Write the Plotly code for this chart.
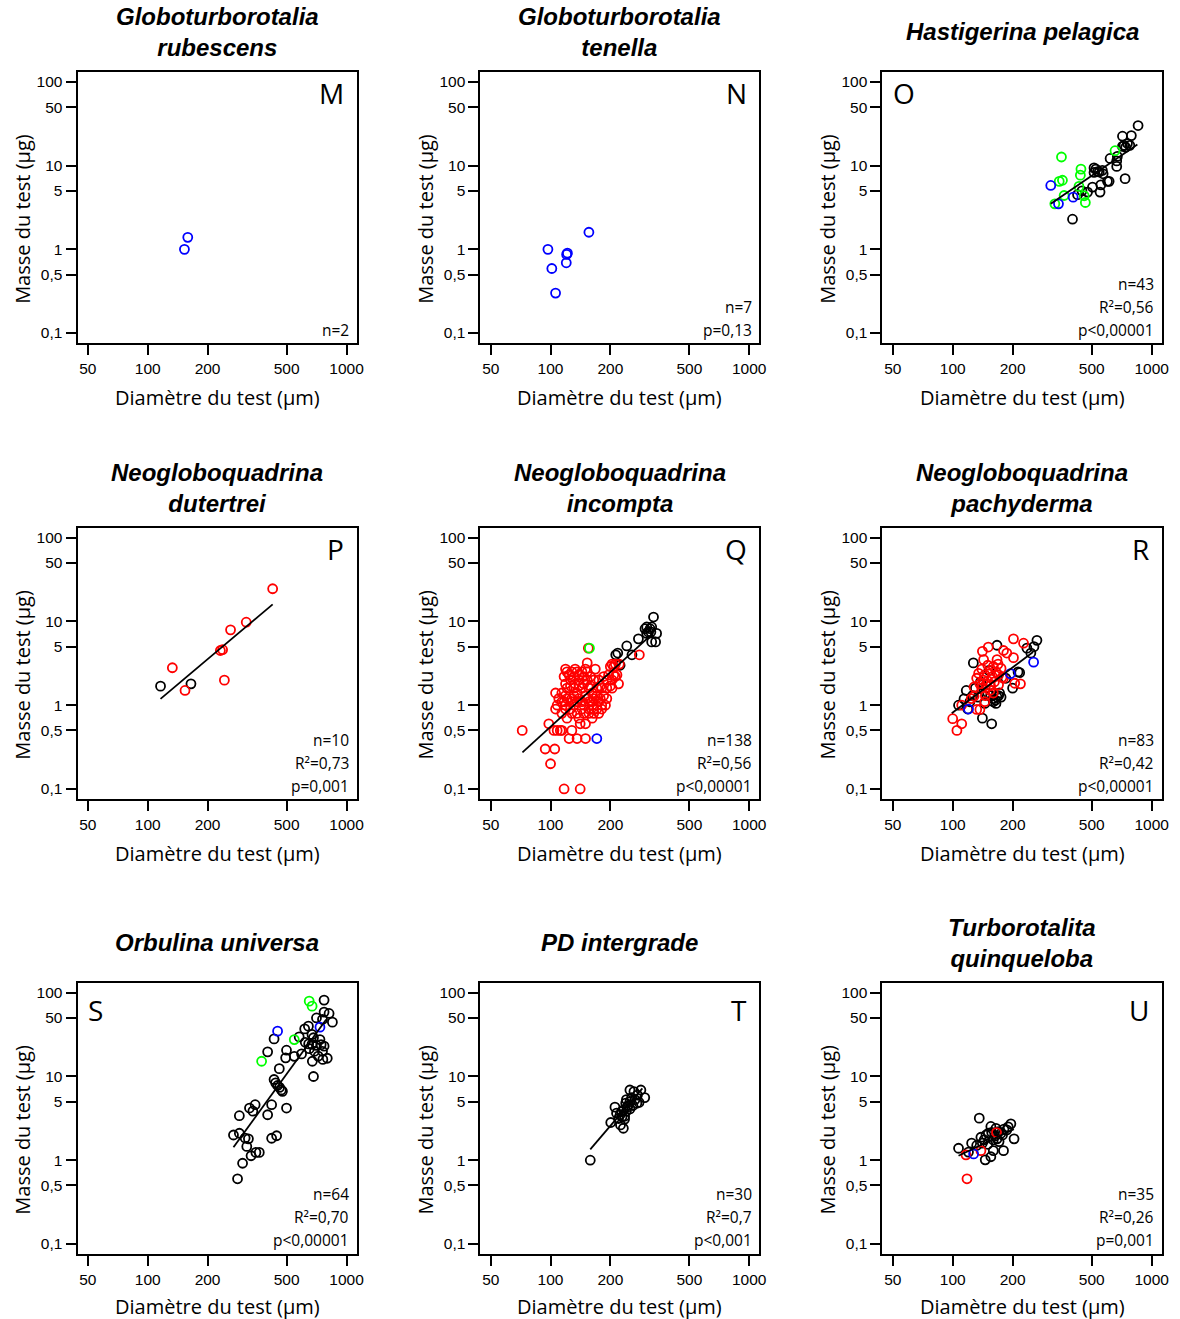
import math
import plotly.graph_objects as go

W, H = 1180, 1319

# ---------------- data ----------------
X_TICKS = [50, 100, 200, 500, 1000]
X_TICKTEXT = ["50", "100", "200", "500", "1000"]
Y_TICKS = [0.1, 0.5, 1, 5, 10, 50, 100]
Y_TICKTEXT = ["0,1", "0,5", "1", "5", "10", "50", "100"]

X_TITLE = "Diamètre du test (µm)"
Y_TITLE = "Masse du test (µg)"

# M  Globoturborotalia rubescens
M_blue_x = [153, 159]
M_blue_y = [1.0, 1.39]

# N  Globoturborotalia tenella
N_blue_x = [97, 101.5, 106, 120, 121.6, 120.5, 156]
N_blue_y = [1.0, 0.59, 0.30, 0.69, 0.9, 0.87, 1.6]

# O  Hastigerina pelagica
O_black_x = [854, 713, 790, 726, 755, 776, 740, 618, 667, 667, 735, 524, 535, 513, 545,
             570, 611, 599, 555, 504, 550, 476, 446, 400, 424, 513, 713, 565, 672]
O_black_y = [30.2, 22.5, 22.9, 17.5, 18.4, 17.5, 16.6, 12.2, 11.4, 9.8, 7.0, 9.1, 8.5, 8.3, 8.4,
             8.0, 6.5, 6.5, 5.9, 5.55, 4.83, 4.83, 5.0, 2.29, 4.5, 9.4, 17.0, 8.8, 12.9]
O_green_x = [352, 343, 356, 441, 438, 363, 326, 431, 458, 464, 654]
O_green_y = [12.7, 6.5, 6.7, 9.1, 7.7, 4.4, 3.5, 5.65, 4.37, 3.63, 15.1]
O_blue_x = [311, 340, 403]
O_blue_y = [5.8, 3.5, 4.2]
O_fit_x = [311, 847]
O_fit_y = [3.5, 17.9]

# P  Neogloboquadrina dutertrei
P_red_x = [425, 313, 261, 232, 238, 243, 133, 154]
P_red_y = [24.6, 9.8, 7.95, 4.5, 4.6, 1.99, 2.8, 1.5]
P_black_x = [116, 165]
P_black_y = [1.69, 1.8]
P_fit_x = [116, 425]
P_fit_y = [1.19, 16.0]

# Q  Neogloboquadrina incompta
Q_black_x = [330, 299, 305, 317, 323, 311, 305, 320, 342, 338, 323, 277, 242, 218, 213, 257, 224]
Q_black_y = [11.3, 8.2, 8.6, 8.2, 8.6, 7.5, 7.2, 7.5, 7.2, 5.7, 5.7, 6.2, 5.1, 4.2, 4.0, 4.0, 3.0]
Q_red_x = [280, 153, 155,
           121, 128, 136, 144, 153,
           204, 212, 222,
           200, 208,
           196, 208, 216, 124, 139,
           126, 139, 153, 165, 175, 192, 204,
           220, 119, 147, 133,
           121, 131, 144, 156, 171, 181, 192, 204,
           106, 114, 162, 136,
           110, 121, 128, 139, 153, 165, 178, 192,
           117, 144, 162, 128,
           108, 119, 131, 147, 162, 181, 189,
           106, 126, 156, 165, 181,
           114, 136, 147, 156, 165,
           121, 139, 162,
           98, 141, 150,
           72, 104, 108, 112, 114, 128,
           124, 136, 150,
           94, 105,
           100,
           117, 141,
           119, 133, 150, 168,
           117, 131, 147, 159, 185, 212,
           126, 139, 159, 178, 200,
           119, 131, 150, 171, 185,
           114, 136, 156, 175,
           119, 144, 171,
           128, 175]
Q_red_y = [4.0, 3.2, 4.8,
           2.5, 2.5, 2.5, 2.5, 2.5,
           3.1, 3.1, 3.1,
           2.9, 2.9,
           2.3, 2.3, 2.3, 2.3, 2.3,
           2.0, 2.0, 2.0, 2.0, 2.0, 2.0, 2.0,
           1.8, 1.8, 1.8, 1.8,
           1.6, 1.6, 1.6, 1.6, 1.6, 1.6, 1.6, 1.6,
           1.4, 1.4, 1.4, 1.4,
           1.2, 1.2, 1.2, 1.2, 1.2, 1.2, 1.2, 1.2,
           1.1, 1.1, 1.1, 1.1,
           1.0, 1.0, 1.0, 1.0, 1.0, 1.0, 1.0,
           0.9, 0.9, 0.9, 0.9, 0.9,
           0.8, 0.8, 0.8, 0.8, 0.8,
           0.7, 0.7, 0.7,
           0.6, 0.6, 0.6,
           0.5, 0.5, 0.5, 0.5, 0.5, 0.5,
           0.4, 0.4, 0.4,
           0.3, 0.3,
           0.2,
           0.1, 0.1,
           2.7, 2.7, 2.7, 2.7,
           2.2, 2.2, 2.2, 2.2, 2.2, 2.2,
           1.7, 1.7, 1.7, 1.7, 1.7,
           1.3, 1.3, 1.3, 1.3, 1.3,
           1.1, 1.1, 1.1, 1.1,
           0.9, 0.9, 0.9,
           0.8, 0.8]
Q_blue_x = [171]
Q_blue_y = [0.4]
Q_green_x = [157]
Q_green_y = [4.8]
Q_fit_x = [72.2, 328.6]
Q_fit_y = [0.274, 7.26]

# R  Neogloboquadrina pachyderma
R_black_x = [265, 256, 247, 167, 127, 213, 217, 200, 167, 170, 164, 160, 117, 114, 107, 141, 157,
             130, 134, 150, 155, 160, 172, 175, 145, 122, 138, 152, 185, 119, 126, 165, 140, 236]
R_black_y = [5.95, 5.0, 4.2, 5.2, 3.2, 2.5, 2.45, 1.6, 1.25, 1.3, 1.15, 1.1, 1.5, 1.19, 1.0, 0.70, 0.6,
             1.6, 1.25, 1.4, 1.3, 1.2, 1.4, 1.25, 1.05, 1.1, 1.9, 2.6, 2.1, 0.9, 1.3, 1.05, 1.75, 4.8]
R_red_x = [202, 227, 151, 141, 180, 187, 202, 143, 167, 169, 150, 160, 140, 155, 165, 175, 135, 145,
           158, 170, 180, 132, 142, 150, 162, 137, 147, 155, 128, 140, 170, 205, 219, 177, 146, 145,
           128, 132, 137, 111, 100, 105, 111, 154, 124, 160]
R_red_y = [6.2, 5.5, 4.95, 4.4, 4.5, 4.2, 3.7, 3.5, 3.5, 3.1, 3.0, 2.9, 2.7, 2.6, 2.5, 2.75, 2.4, 2.3,
           2.2, 2.3, 2.1, 2.1, 2.0, 1.95, 1.9, 1.8, 1.75, 1.7, 1.65, 1.6, 1.75, 1.83, 1.8, 2.16, 1.3, 1.1,
           1.28, 0.89, 0.89, 1.0, 0.69, 0.5, 0.6, 1.5, 1.2, 1.4]
R_blue_x = [255, 195, 120]
R_blue_y = [3.27, 2.38, 0.9]
R_fit_x = [98.9, 253.5]
R_fit_y = [0.80, 4.31]

# S  Orbulina universa
S_black_x = [771, 771, 817, 849, 757, 706, 643, 616, 670, 682, 578, 620, 645, 670, 706, 735, 745,
             771, 757, 432, 401, 499, 494, 546, 594, 650, 690, 720, 800, 760, 673, 682, 459, 432,
             440, 450, 460, 470, 476, 499, 420, 401, 347, 325, 338, 289, 270, 289, 309, 321, 445,
             420, 315, 350, 364, 331, 300, 283]
S_black_y = [81.7, 58.7, 56.6, 44.5, 47.9, 50, 39.9, 37, 31.8, 29, 29.7, 25.6, 24.5, 24.2, 23.5, 27.6,
             24, 23, 20, 28.1, 19.7, 20.6, 16.7, 17.4, 18.6, 21.5, 20, 17.5, 16.5, 16, 15.2, 10.0,
             12.4, 9.2, 8.4, 7.8, 7.4, 6.9, 6.64, 4.2, 4.6, 3.49, 4.6, 4.2, 3.85, 3.4, 2.0, 2.1,
             1.84, 1.8, 1.96, 1.83, 1.46, 1.24, 1.24, 1.13, 0.92, 0.6]
S_green_x = [649, 671, 546, 374]
S_green_y = [79.4, 69.2, 27.6, 15.2]
S_blue_x = [450, 735]
S_blue_y = [34.8, 38.8]
S_fit_x = [270, 790]
S_fit_y = [1.43, 48]

# T  PD intergrade
T_black_x = [158.5, 201, 232.6, 225, 211, 215, 224, 220, 229, 236, 241, 233, 243, 239, 251,
             251, 256, 266, 263, 274, 272, 279, 285, 298, 251, 241, 228, 246, 260, 236]
T_black_y = [1.0, 2.82, 2.41, 2.64, 4.3, 3.65, 3.5, 3.15, 3.3, 3.35, 3.85, 4.0, 4.3, 4.8, 4.1,
             5.0, 5.6, 5.3, 6.6, 6.0, 4.8, 4.9, 6.9, 5.6, 6.9, 5.3, 3.8, 4.5, 4.5, 3.1]
T_fit_x = [158.5, 290]
T_fit_y = [1.35, 7.2]

# U  Turborotalita quinqueloba
U_black_x = [136, 107, 124.5, 138.6, 144, 147, 151, 157, 155.5, 163, 167, 171, 175, 181, 187,
             196, 190, 203.4, 180, 160, 155.5, 145.7, 170, 150, 160, 132, 120, 141, 165, 178]
U_black_y = [3.18, 1.39, 1.6, 1.88, 1.75, 2.0, 2.1, 2.15, 2.53, 1.95, 1.8, 1.67, 2.1, 2.35, 2.30,
             2.72, 2.5, 1.8, 1.3, 1.30, 1.1, 1.01, 2.2, 1.55, 1.75, 1.5, 1.25, 1.6, 2.4, 2.0]
U_red_x = [166, 116.6, 138.6, 118]
U_red_y = [2.14, 1.16, 1.3, 0.6]
U_blue_x = [127.4]
U_blue_y = [1.19]
U_fit_x = [107, 203]
U_fit_y = [1.13, 2.35]

TITLES = ["Globoturborotalia<br>rubescens", "Globoturborotalia<br>tenella", "Hastigerina pelagica",
          "Neogloboquadrina<br>dutertrei", "Neogloboquadrina<br>incompta", "Neogloboquadrina<br>pachyderma",
          "Orbulina universa", "PD intergrade", "Turborotalita<br>quinqueloba"]
LETTERS = ["M", "N", "O", "P", "Q", "R", "S", "T", "U"]
LETTER_SIDE = ["right", "right", "left", "right", "right", "right", "left", "right", "right"]
STATS = [["n=2"],
         ["n=7", "p=0,13"],
         ["n=43", "R²=0,56", "p<0,00001"],
         ["n=10", "R²=0,73", "p=0,001"],
         ["n=138", "R²=0,56", "p<0,00001"],
         ["n=83", "R²=0,42", "p<0,00001"],
         ["n=64", "R²=0,70", "p<0,00001"],
         ["n=30", "R²=0,7", "p<0,001"],
         ["n=35", "R²=0,26", "p=0,001"]]

BLACK, RED, BLUE, GREEN = "#000000", "#ff0000", "#0000ff", "#00ff00"

SERIES = [
    [(M_blue_x, M_blue_y, BLUE)],
    [(N_blue_x, N_blue_y, BLUE)],
    [(O_black_x, O_black_y, BLACK), (O_green_x, O_green_y, GREEN), (O_blue_x, O_blue_y, BLUE)],
    [(P_black_x, P_black_y, BLACK), (P_red_x, P_red_y, RED)],
    [(Q_black_x, Q_black_y, BLACK), (Q_red_x, Q_red_y, RED), (Q_blue_x, Q_blue_y, BLUE),
     (Q_green_x, Q_green_y, GREEN)],
    [(R_black_x, R_black_y, BLACK), (R_red_x, R_red_y, RED), (R_blue_x, R_blue_y, BLUE)],
    [(S_black_x, S_black_y, BLACK), (S_blue_x, S_blue_y, BLUE), (S_green_x, S_green_y, GREEN)],
    [(T_black_x, T_black_y, BLACK)],
    [(U_black_x, U_black_y, BLACK), (U_red_x, U_red_y, RED), (U_blue_x, U_blue_y, BLUE)],
]
FITS = [None, None, (O_fit_x, O_fit_y), (P_fit_x, P_fit_y), (Q_fit_x, Q_fit_y),
        (R_fit_x, R_fit_y), (S_fit_x, S_fit_y), (T_fit_x, T_fit_y), (U_fit_x, U_fit_y)]

# ---------------- layout geometry (pixels) ----------------
COL_X = [(78, 359), (483.3, 764), (887.7, 1169)]
ROW_Y = [(72, 343), (527.7, 799), (982.7, 1254)]
LETTER_DY = [21, 21, 27]
STAT_BOTTOM = [13, 13, 14]
XTITLE_DY = [54, 54, 52]

SANS = "Open Sans, Lato, sans-serif"
ARIAL = "Liberation Sans, Arial, sans-serif"

def px(x):
    return x / W

def py(y):
    return 1 - y / H

fig = go.Figure()
layout = dict(width=W, height=H, margin=dict(l=0, r=0, t=0, b=0),
              paper_bgcolor="white", plot_bgcolor="white", showlegend=False)
annotations = []

xr = [math.log10(50) - 0.052, 3.052]
yr = [-1.12, 2.12]

for i in range(9):
    r, c = divmod(i, 3)
    x0, x1 = COL_X[c]
    y0, y1 = ROW_Y[r]
    xa = "x" if i == 0 else f"x{i+1}"
    ya = "y" if i == 0 else f"y{i+1}"
    xkey = "xaxis" if i == 0 else f"xaxis{i+1}"
    ykey = "yaxis" if i == 0 else f"yaxis{i+1}"
    common = dict(type="log", ticks="outside", ticklen=10, tickwidth=1.5, tickcolor="black",
                  showline=True, linecolor="black", linewidth=2, mirror=True,
                  showgrid=False, zeroline=False, fixedrange=True,
                  tickfont=dict(family=ARIAL, size=15.5, color="black"))
    layout[xkey] = dict(domain=[px(x0), px(x1)], range=xr, anchor=ya,
                        tickvals=X_TICKS, ticktext=X_TICKTEXT, **common)
    layout[ykey] = dict(domain=[py(y1), py(y0)], range=yr, anchor=xa,
                        tickvals=Y_TICKS, ticktext=Y_TICKTEXT, **common)

    for sx, sy, col in SERIES[i]:
        fig.add_trace(go.Scatter(x=sx, y=sy, mode="markers", xaxis=xa, yaxis=ya,
                                 marker=dict(symbol="circle-open", size=9, color=col,
                                             line=dict(width=1.8, color=col)),
                                 hoverinfo="skip"))
    if FITS[i] is not None:
        fx, fy = FITS[i]
        fig.add_trace(go.Scatter(x=fx, y=fy, mode="lines", xaxis=xa, yaxis=ya,
                                 line=dict(color="black", width=1.8), hoverinfo="skip"))

    cx = (x0 + x1) / 2
    cy = (y0 + y1) / 2
    # panel title
    annotations.append(dict(text=f"<b><i>{TITLES[i]}</i></b>", x=px(cx), y=py(y0 - 40),
                            xref="paper", yref="paper", xanchor="center", yanchor="middle",
                            showarrow=False, font=dict(family=ARIAL, size=24, color="black")))
    # letter
    if LETTER_SIDE[i] == "right":
        lx, lanchor = x1 - 11, "right"
    else:
        lx, lanchor = x0 + 9, "left"
    annotations.append(dict(text=LETTERS[i], x=px(lx), y=py(y0 + LETTER_DY[r]),
                            xref="paper", yref="paper", xanchor=lanchor, yanchor="middle",
                            showarrow=False, font=dict(family=SANS, size=28, color="black")))
    # stats
    lines = STATS[i]
    for k, s in enumerate(reversed(lines)):
        annotations.append(dict(text=s, x=px(x1 - 6), y=py(y1 - STAT_BOTTOM[r] - 23 * k),
                                xref="paper", yref="paper", xanchor="right", yanchor="middle",
                                showarrow=False, font=dict(family=SANS, size=15.5, color="black")))
    # axis titles
    annotations.append(dict(text=X_TITLE, x=px(cx), y=py(y1 + XTITLE_DY[r]), xref="paper", yref="paper",
                            xanchor="center", yanchor="middle", showarrow=False,
                            font=dict(family=SANS, size=20, color="black")))
    annotations.append(dict(text=Y_TITLE, x=px(x0 - 55), y=py(cy + 11.5), xref="paper", yref="paper",
                            xanchor="center", yanchor="middle", showarrow=False, textangle=-90,
                            font=dict(family=SANS, size=20, color="black")))

layout["annotations"] = annotations
fig.update_layout(**layout)
fig.write_html("out.html", config={"displayModeBar": False},
               post_script="document.body.style.margin='0';document.body.style.overflow='hidden';")
